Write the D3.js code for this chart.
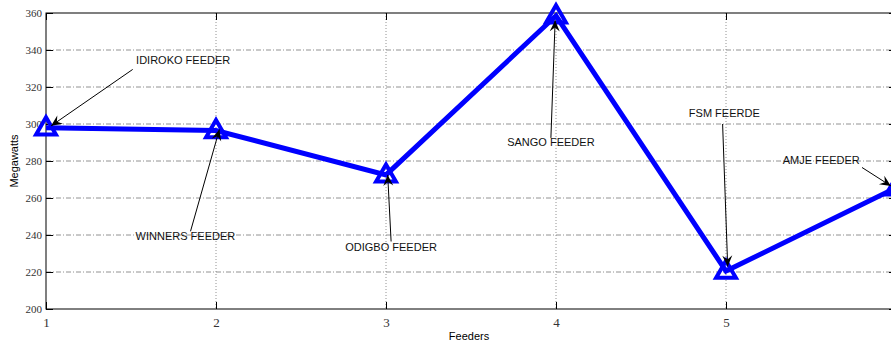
<!DOCTYPE html>
<html><head><meta charset="utf-8">
<script src="https://cdn.jsdelivr.net/npm/d3@7"></script>
<style>body{margin:0;background:#fff}svg{display:block}</style>
</head><body>
<script>
const feeders = [1, 2, 3, 4, 5, 6];
const megawatts = [298, 296.5, 272.5, 358.5, 220.5, 265.5];
const xTicks = [1, 2, 3, 4, 5];
const yTicks = [200, 220, 240, 260, 280, 300, 320, 340, 360];
const labels = ["IDIROKO FEEDER", "WINNERS FEEDER", "ODIGBO FEEDER", "SANGO FEEDER", "FSM FEERDE", "AMJE FEEDER"];
// label anchor positions in data units [x, y] and arrow tail / head
const labelPos = [[1.53, 332.3], [1.82, 237.5], [3.03, 231.5], [3.97, 288], [4.99, 304], [5.56, 278.4]];
const tailPos = [[1.51, 329.5], [1.85, 242], [3.03, 236.5], [3.97, 292.5], [4.98, 300], [5.8, 276.5]];
const headPos = [[1.03, 299], [2.02, 297], [3.01, 272.5], [3.995, 356], [5.01, 223], [5.97, 266.5]];

const W = 891, H = 343;
const m = {left: 46, top: 13, right: 896, bottom: 309};
const svg = d3.select("body").append("svg").attr("width", W).attr("height", H);
const x = d3.scaleLinear().domain([1, 6]).range([m.left, m.right]);
const y = d3.scaleLinear().domain([200, 360]).range([m.bottom, m.top]);

// grid
svg.append("g").selectAll("line").data(yTicks.slice(1, -1)).join("line")
  .attr("x1", m.left).attr("x2", m.right).attr("y1", d => y(d)).attr("y2", d => y(d))
  .attr("stroke", "#777").attr("stroke-width", 0.8).attr("stroke-dasharray", "5,2,1,2");
svg.append("g").selectAll("line").data(xTicks.slice(1)).join("line")
  .attr("x1", d => x(d)).attr("x2", d => x(d)).attr("y1", m.top).attr("y2", m.bottom)
  .attr("stroke", "#777").attr("stroke-width", 0.8).attr("stroke-dasharray", "1,2");

// frame
svg.append("rect").attr("x", m.left).attr("y", m.top).attr("width", m.right - m.left).attr("height", m.bottom - m.top)
  .attr("fill", "none").attr("stroke", "#000").attr("stroke-width", 1);

// axes (ticks inward)
const gx = svg.append("g").attr("transform", `translate(0,${m.bottom})`)
  .call(d3.axisBottom(x).tickValues(xTicks).tickSize(-7).tickPadding(9).tickFormat(d3.format("d")));
const gx2 = svg.append("g").attr("transform", `translate(0,${m.top})`)
  .call(d3.axisTop(x).tickValues(xTicks).tickSize(-7).tickFormat(""));
const gy = svg.append("g").attr("transform", `translate(${m.left},0)`)
  .call(d3.axisLeft(y).tickValues(yTicks).tickSize(-7).tickPadding(4).tickFormat(d3.format("d")));
const gy2 = svg.append("g").attr("transform", `translate(${m.right},0)`)
  .call(d3.axisRight(y).tickValues(yTicks).tickSize(-7).tickFormat(""));
[gx, gx2, gy, gy2].forEach(g => { g.select(".domain").remove(); g.selectAll("line").attr("stroke", "#000"); });
gx.selectAll("text").attr("font-family", "Liberation Serif, serif").attr("font-size", 13).attr("fill", "#333");
gy.selectAll("text").attr("font-family", "Liberation Serif, serif").attr("font-size", 11).attr("fill", "#333");

// axis titles
svg.append("text").attr("x", 469).attr("y", 340).attr("text-anchor", "middle")
  .attr("font-family", "Liberation Sans, Arial, sans-serif").attr("font-size", 11).text("Feeders");
svg.append("text").attr("transform", `translate(18,${(m.top + m.bottom) / 2}) rotate(-90)`).attr("text-anchor", "middle")
  .attr("font-family", "Liberation Sans, Arial, sans-serif").attr("font-size", 11).text("Megawatts");

svg.append("clipPath").attr("id", "c").append("rect").attr("x", 0).attr("y", 0).attr("width", W).attr("height", H);
const data = feeders.map((f, i) => ({f, v: megawatts[i]}));
const plot = svg.append("g").attr("clip-path", "url(#c)");
plot.append("path").datum(data)
  .attr("d", d3.line().x(d => x(d.f)).y(d => y(d.v)))
  .attr("fill", "none").attr("stroke", "#0000ff").attr("stroke-width", 5).attr("stroke-linejoin", "miter");
const tri = d3.symbol().type(d3.symbolTriangle).size(170);
plot.selectAll(".mk").data(data).join("path")
  .attr("transform", d => `translate(${x(d.f)},${y(d.v) + 1})`)
  .attr("d", tri()).attr("fill", "none").attr("stroke", "#0000ff").attr("stroke-width", 4);

// annotations
const ann = svg.append("g");
labels.forEach((t, i) => {
  const [lx, ly] = labelPos[i];
  ann.append("text").attr("x", x(lx)).attr("y", y(ly)).attr("text-anchor", i === 0 ? "start" : "middle")
    .attr("font-family", "Liberation Sans, Arial, sans-serif").attr("font-size", 11).attr("fill", "#111").text(t);
  const x1 = x(tailPos[i][0]), y1 = y(tailPos[i][1]), x2 = x(headPos[i][0]), y2 = y(headPos[i][1]);
  ann.append("line").attr("x1", x1).attr("y1", y1).attr("x2", x2).attr("y2", y2).attr("stroke", "#000").attr("stroke-width", 1);
  const a = Math.atan2(y2 - y1, x2 - x1), L = 11, Wd = 5, back = 7;
  const p = (dx, dy) => [x2 + dx * Math.cos(a) - dy * Math.sin(a), y2 + dx * Math.sin(a) + dy * Math.cos(a)];
  const pts = [p(0, 0), p(-L, -Wd), p(-back, 0), p(-L, Wd)];
  ann.append("path").attr("d", "M" + pts.map(q => q.join(",")).join("L") + "Z").attr("fill", "#000");
});
</script>
</body></html>
